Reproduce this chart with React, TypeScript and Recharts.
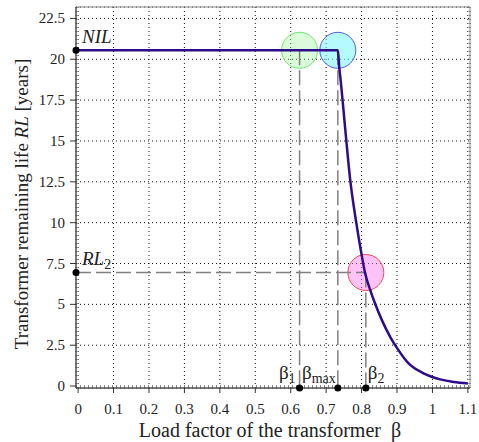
import React from 'react'
import {
  ComposedChart, Line, XAxis, YAxis, CartesianGrid, ReferenceLine, ReferenceDot, ReferenceArea, Label,
} from 'recharts'

// curve: load factor beta vs remaining life RL [years]
const BETA = [0, 0.733, 0.737, 0.741, 0.754, 0.768, 0.785, 0.798, 0.81, 0.824, 0.838, 0.857, 0.881, 0.904, 0.932, 0.975, 1.022, 1.06, 1.1]
const RL = [20.55, 20.55, 19.5, 18.7, 15.7, 12.6, 10.0, 8.3, 6.9, 5.9, 5.05, 4.05, 3.0, 2.2, 1.4, 0.78, 0.41, 0.25, 0.16]

const X_TICKS = [0, 0.1, 0.2, 0.3, 0.4, 0.5, 0.6, 0.7, 0.8, 0.9, 1, 1.1]
const Y_TICKS = [0, 2.5, 5, 7.5, 10, 12.5, 15, 17.5, 20, 22.5]

const NIL = 20.55
const RL2 = 6.95
const BETA1 = 0.625
const BETA_MAX = 0.733
const BETA2 = 0.812

const X_MIN = -0.006
const X_MAX = 1.106
const Y_MIN = -0.12
const Y_MAX = 23.2

const data = BETA.map((b, i) => ({ beta: b, rl: RL[i] }))

const FONT = 'Liberation Serif, Times New Roman, serif'
const DASH_COLOR = '#808080'
const DASH = '15 5'

const XTick = (props: any) => {
  const { x, y, payload } = props
  return (
    <text x={x} y={y + 19} textAnchor="middle" fontFamily="Liberation Serif" fontSize={15} fill="#222">
      {String(payload.value)}
    </text>
  )
}

const YTick = (props: any) => {
  const { x, y, payload } = props
  return (
    <text x={x - 3} y={y + 5} textAnchor="end" fontFamily="Liberation Serif" fontSize={15} fill="#222">
      {String(payload.value)}
    </text>
  )
}

const SubLabel = (main: string, sub: string, dx: number, dy: number, anchor: string, italic = false) =>
  (props: any) => {
    const vb = props.viewBox || {}
    const cx = vb.x + (vb.width || 0) / 2
    const cy = vb.y + (vb.height || 0) / 2
    return (
      <text x={cx + dx} y={cy + dy} textAnchor={anchor} style={{ fontFamily: FONT }} fill="#222">
        <tspan fontSize={19} fontStyle={italic ? 'italic' : 'normal'}>{main}</tspan>
        {sub && <tspan fontSize={14} dy={4}>{sub}</tspan>}
      </text>
    )
  }

const YTitle = () => {
  const y = 204
  const x = 28
  return (
    <text x={x} y={y} transform={`rotate(-90 ${x} ${y})`} textAnchor="middle" style={{ fontFamily: FONT }} fontSize={19} fill="#222">
      Transformer remaining life <tspan fontStyle="italic">RL</tspan> [years]
    </text>
  )
}

const XTitle = () => (
  <text x={270} y={437} textAnchor="middle" style={{ fontFamily: FONT }} fontSize={20} fill="#222">
    Load factor of the transformer {'\u00a0'}β
  </text>
)

export default function App() {
  return (
    <div style={{ position: 'absolute', left: 0, top: 0, width: 479, height: 442, background: '#fff', fontFamily: FONT }}>
      <ComposedChart width={479} height={442} data={data} margin={{ top: 7, right: 9, left: 0, bottom: 0 }}>
        <CartesianGrid stroke="#111" strokeDasharray="1 3" />
        <ReferenceArea x1={X_MIN} x2={X_MAX} y1={Y_MIN} y2={Y_MAX} fill="none" fillOpacity={0} stroke="#888" strokeWidth={1} />
        <XAxis
          type="number"
          dataKey="beta"
          domain={[X_MIN, X_MAX]}
          ticks={X_TICKS}
          allowDataOverflow
          height={54}
          tickSize={5}
          stroke="#333"
          tick={XTick}
        >
          <Label content={XTitle} />
        </XAxis>
        <YAxis
          type="number"
          domain={[Y_MIN, Y_MAX]}
          ticks={Y_TICKS}
          allowDataOverflow
          width={76}
          tickSize={6}
          stroke="#333"
          tick={YTick}
        >
          <Label content={YTitle} />
        </YAxis>

        <ReferenceLine segment={[{ x: BETA1, y: NIL }, { x: BETA1, y: Y_MIN }]} stroke={DASH_COLOR} strokeWidth={1.5} strokeDasharray={DASH} />
        <ReferenceLine segment={[{ x: BETA_MAX, y: NIL }, { x: BETA_MAX, y: Y_MIN }]} stroke={DASH_COLOR} strokeWidth={1.5} strokeDasharray={DASH} />
        <ReferenceLine segment={[{ x: BETA2, y: RL2 }, { x: BETA2, y: Y_MIN }]} stroke={DASH_COLOR} strokeWidth={1.5} strokeDasharray={DASH} />
        <ReferenceLine segment={[{ x: X_MIN, y: RL2 }, { x: BETA2, y: RL2 }]} stroke={DASH_COLOR} strokeWidth={1.5} strokeDasharray={DASH} />

        <ReferenceDot zIndex={350} x={BETA1} y={NIL} r={18} fill="rgba(150,245,150,0.35)" stroke="#70e870" strokeWidth={1} />
        <ReferenceDot zIndex={350} x={BETA_MAX} y={NIL} r={18} fill="rgba(120,245,250,0.55)" stroke="#5060f0" strokeWidth={1} />
        <ReferenceDot zIndex={350} x={BETA2} y={RL2} r={18} fill="rgba(250,120,235,0.45)" stroke="#f04858" strokeWidth={1} />

        <Line type="monotone" dataKey="rl" stroke="#2e0b8c" strokeWidth={2.5} dot={false} isAnimationActive={false} />

        <ReferenceDot x={X_MIN} y={NIL} r={3.5} fill="#000" stroke="none">
          <Label content={SubLabel('NIL', '', 6, -7, 'start', true)} />
        </ReferenceDot>
        <ReferenceDot x={X_MIN} y={RL2} r={3.5} fill="#000" stroke="none">
          <Label content={SubLabel('RL', '2', 6, -7, 'start', true)} />
        </ReferenceDot>
        <ReferenceDot x={BETA1} y={Y_MIN} r={3.5} fill="#000" stroke="none">
          <Label content={SubLabel('β', '1', -4, -9, 'end')} />
        </ReferenceDot>
        <ReferenceDot x={BETA_MAX} y={Y_MIN} r={3.5} fill="#000" stroke="none">
          <Label content={SubLabel('β', 'max', -2, -9, 'end')} />
        </ReferenceDot>
        <ReferenceDot x={BETA2} y={Y_MIN} r={3.5} fill="#000" stroke="none">
          <Label content={SubLabel('β', '2', 2, -9, 'start')} />
        </ReferenceDot>
      </ComposedChart>
    </div>
  )
}
